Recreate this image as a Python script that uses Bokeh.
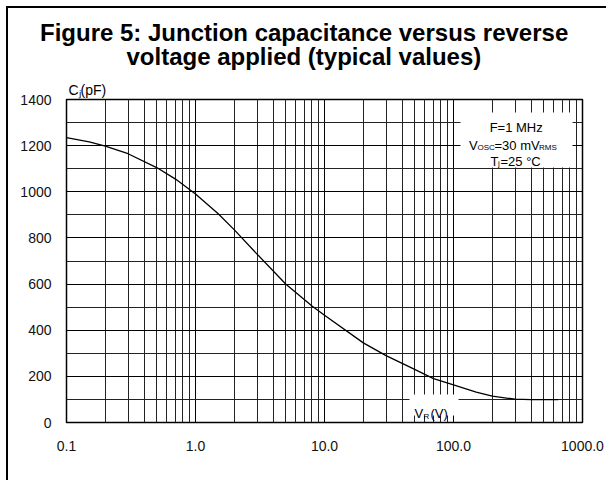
from bokeh.plotting import figure
from bokeh.models import FixedTicker, Range1d, Label, BoxAnnotation, Title
from bokeh.embed import file_html
from bokeh.resources import INLINE

# ---- data ----
voltage = [0.1, 0.15, 0.2, 0.3, 0.5, 0.7, 1.0, 1.5, 2, 3, 5, 8, 10, 20, 30, 50, 70, 100, 150, 200, 300, 400, 500, 650]
capacitance = [1235, 1216, 1198, 1165, 1105, 1055, 990, 905, 835, 730, 600, 505, 465, 345, 290, 230, 190, 163, 132, 114, 101, 99, 99, 99]

x_major = [0.1, 1, 10, 100, 1000]
x_labels = ["0.1", "1.0", "10.0", "100.0", "1000.0"]
x_minor = [m * d for d in [0.1, 1, 10, 100] for m in range(2, 10)]
y_major = [0, 200, 400, 600, 800, 1000, 1200, 1400]
y_minor = [100, 300, 500, 700, 900, 1100, 1300]

title_lines = ["Figure 5: Junction capacitance versus reverse", "voltage applied (typical values)"]
y_title = "C\u2C7C(pF)"

FONT = "Liberation Sans"

p = figure(width=600, height=474, x_axis_type="log", title=None,
           x_range=Range1d(0.1, 1000), y_range=Range1d(0, 1400),
           output_backend="svg", toolbar_location=None,
           min_border_left=58, min_border_right=26, min_border_top=91, min_border_bottom=60,
           styles={"margin-left": "6px", "margin-top": "6px",
                   "border-left": "2px solid black", "border-top": "2px solid black"})
p.background_fill_color = "white"
p.border_fill_color = "white"
p.outline_line_color = "black"
p.outline_line_width = 1.5

xt = FixedTicker(ticks=x_major, minor_ticks=x_minor)
yt = FixedTicker(ticks=y_major, minor_ticks=y_minor)
p.xaxis.ticker = xt
p.yaxis.ticker = yt
p.xaxis.major_label_overrides = {v: s for v, s in zip(x_major, x_labels)}
for ax in (p.xaxis[0], p.yaxis[0]):
    ax.axis_line_color = None
    ax.major_tick_line_color = None
    ax.minor_tick_line_color = None
    ax.major_tick_out = 0
    ax.major_tick_in = 0
    ax.minor_tick_out = 0
    ax.minor_tick_in = 0
    ax.major_label_text_font = FONT
    ax.major_label_text_font_size = "14px"
    ax.major_label_text_color = "#111111"
p.xaxis.major_label_standoff = 18
p.yaxis.major_label_standoff = 15

p.xgrid.ticker = xt
p.ygrid.ticker = yt
for g in (p.xgrid[0], p.ygrid[0]):
    g.grid_line_color = "black"
    g.grid_line_width = 1
    g.minor_grid_line_color = "#222222"
    g.minor_grid_line_width = 1

p.line(voltage, capacitance, line_color="black", line_width=1.3)

# titles in the panel above the frame (closest to the frame first)
p.add_layout(Title(text=y_title, align="left", offset=2, standoff=4,
                   vertical_align="bottom",
                   text_font=FONT, text_font_size="14px", text_font_style="normal",
                   text_color="black"), "above")
p.add_layout(Title(text=title_lines[1], align="left", offset=60, standoff=10.6,
                   vertical_align="top",
                   text_font=FONT, text_font_size="24px", text_font_style="bold",
                   text_color="black"), "above")
p.add_layout(Title(text=title_lines[0], align="left", offset=-26.5, standoff=-16.2,
                   vertical_align="bottom",
                   text_font=FONT, text_font_size="24px", text_font_style="bold",
                   text_color="black"), "above")

# white boxes behind in-plot annotations (screen units relative to frame)
p.add_layout(BoxAnnotation(left=394, right=506, bottom=255, top=310,
                           left_units="screen", right_units="screen",
                           top_units="screen", bottom_units="screen",
                           fill_color="white", fill_alpha=1, line_color=None))
p.add_layout(BoxAnnotation(left=343, right=392, bottom=7, top=28,
                           left_units="screen", right_units="screen",
                           top_units="screen", bottom_units="screen",
                           fill_color="white", fill_alpha=1, line_color=None))

def lab(x, y, text, size="13px", align="left"):
    p.add_layout(Label(x=x, y=y, x_units="screen", y_units="screen", text=text,
                       text_font=FONT, text_font_size=size, text_align=align,
                       text_baseline="alphabetic", text_color="black"))

# conditions box
lab(449.7, 295.3, "F=1 MHz", size="13px", align="center")
lab(402.5, 277.3, "V", size="13px")
lab(411.0, 275.0, "OSC", size="8px")
lab(428.0, 277.3, "=30 mV", size="13px")
lab(472.5, 275.0, "RMS", size="8px")
lab(424, 261.3, "T", size="13px")
lab(431.5, 259.0, "j", size="8px")
lab(434.0, 261.3, "=25 °C", size="13px")

# x axis label V_R(V)
lab(348.0, 9, "V", size="13px")
lab(357.0, 6.5, "R", size="8px")
lab(364.0, 9, "(V)", size="13px")

open("out.html", "w").write(file_html(p, INLINE))
